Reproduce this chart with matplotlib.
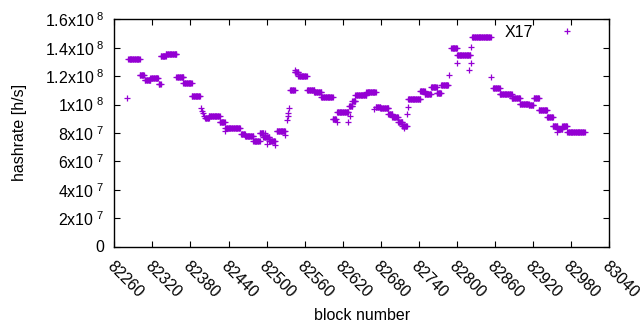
"""
Hashrate per block, gnuplot-style scatter of '+' points.
"""

import matplotlib
matplotlib.use("Agg")
import matplotlib.pyplot as plt
import matplotlib.transforms as mtransforms

plt.rcParams['font.family'] = ['Liberation Sans', 'DejaVu Sans']
plt.rcParams['mathtext.default'] = 'regular'

# runs of blocks that share one hashrate value (millions of h/s)
run_start = [82282, 82300, 82308, 82317, 82330, 82333, 82341, 82358, 82369, 82382,
             82403, 82409, 82426, 82435, 82460, 82466, 82479, 82489, 82495, 82504,
             82516, 82537, 82544, 82550, 82564, 82575, 82586, 82604, 82611, 82630,
             82635, 82640, 82657, 82672, 82679, 82692, 82698, 82707, 82714, 82723,
             82742, 82749, 82759, 82768, 82775, 82791, 82800, 82824, 82857, 82867,
             82886, 82899, 82913, 82921, 82929, 82942, 82951, 82958, 82966, 82974]
run_end = [82300, 82307, 82317, 82329, 82333, 82341, 82358, 82369, 82382, 82395,
           82409, 82426, 82434, 82458, 82466, 82479, 82489, 82495, 82504, 82513,
           82529, 82544, 82550, 82563, 82575, 82586, 82604, 82609, 82629, 82635,
           82640, 82657, 82672, 82679, 82692, 82698, 82707, 82714, 82721, 82742,
           82749, 82759, 82768, 82775, 82786, 82800, 82821, 82853, 82867, 82886,
           82899, 82913, 82920, 82929, 82942, 82951, 82958, 82966, 82973, 83001]
run_value = [131.8, 120.5, 117.0, 118.4, 114.2, 134.5, 135.4, 119.7, 114.9, 105.7,
             90.5, 92.1, 87.4, 83.2, 79.4, 78.1, 74.1, 79.7, 77.3, 74.5,
             81.5, 110.4, 122.8, 119.9, 110.0, 108.6, 105.0, 89.8, 94.5, 99.1,
             102.4, 106.4, 108.6, 98.4, 97.3, 93.5, 91.4, 87.4, 85.0, 103.6,
             109.7, 107.4, 112.1, 108.1, 113.9, 139.5, 134.6, 147.3, 111.4, 107.7,
             104.9, 100.7, 99.8, 104.9, 96.4, 91.0, 84.6, 82.9, 84.7, 80.4]

# isolated blocks
single_block = [82280, 82396, 82398, 82399, 82401, 82434, 82498, 82500, 82513, 82529,
                82532, 82533, 82534, 82536, 82545, 82611, 82629, 82631, 82670, 82717,
                82721, 82723, 82788, 82800, 82819, 82822, 82822, 82854, 82957]
single_value = [104.3, 97.5, 95.5, 94.0, 92.0, 81.3, 79.9, 72.5, 71.5, 78.5,
                89.0, 91.9, 94.2, 97.3, 124.3, 87.9, 87.9, 91.9, 96.6, 83.2,
                93.3, 98.4, 120.7, 129.0, 124.3, 129.0, 140.7, 119.1, 80.6]

y_ticks = [0, 2e7, 4e7, 6e7, 8e7, 1e8, 1.2e8, 1.4e8, 1.6e8]
y_labels = ['0', r'2x10$^{\ 7}$', r'4x10$^{\ 7}$', r'6x10$^{\ 7}$', r'8x10$^{\ 7}$',
            r'1x10$^{\ 8}$', r'1.2x10$^{\ 8}$', r'1.4x10$^{\ 8}$', r'1.6x10$^{\ 8}$']
x_ticks = list(range(82260, 83041, 60))

blocks = []
rates = []
for s, e, v in zip(run_start, run_end, run_value):
    for b in range(s, e + 1):
        blocks.append(b)
        rates.append(v * 1e6)
blocks += single_block
rates += [v * 1e6 for v in single_value]

color = '#9400d3'
fs = 11.5

fig = plt.figure(figsize=(6.4, 3.3), dpi=100)
ax = fig.add_axes([114.3 / 640, 83.5 / 330, 495 / 640, 227.2 / 330])
ax.plot(blocks, rates, '+', color=color, markersize=5, markeredgewidth=0.9,
        label='X17', linestyle='none')

ax.set_xlim(82260, 83040)
ax.set_ylim(0, 1.6e8)
ax.set_xticks(x_ticks)
ax.set_xticklabels([str(t) for t in x_ticks], rotation=-45, ha='left', va='top',
                   rotation_mode='anchor', fontsize=fs)
# gnuplot anchors rotated labels a little to the right of the tick
shift = mtransforms.ScaledTranslation(8 / 100, 3 / 100, fig.dpi_scale_trans)
for lab in ax.get_xticklabels():
    lab.set_transform(lab.get_transform() + shift)
ax.set_yticks(y_ticks)
ax.set_yticklabels(y_labels, fontsize=fs)
ax.tick_params(direction='in', top=True, right=True, length=4, width=0.8, pad=7)
ax.tick_params(axis='x', pad=9)
for sp in ax.spines.values():
    sp.set_linewidth(1.0)

ax.set_xlabel('block number', fontsize=fs, labelpad=5)
ax.set_ylabel('hashrate [h/s]', fontsize=fs, labelpad=13)

ax.legend(loc='upper right', bbox_to_anchor=(0.946, 0.975), frameon=False,
          markerfirst=False, numpoints=1, handlelength=2, handletextpad=1.1,
          borderpad=0, borderaxespad=0, fontsize=fs)

plt.savefig('out.png', dpi=100)
plt.close()
